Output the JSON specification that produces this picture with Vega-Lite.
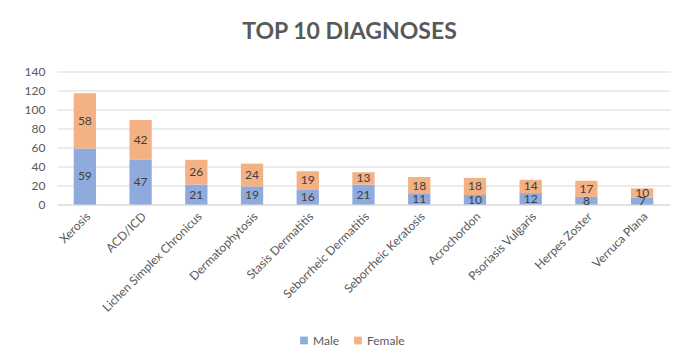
{
  "$schema": "https://vega.github.io/schema/vega-lite/v6.json",
  "autosize": {"type": "none"},
  "width": 613,
  "height": 133,
  "padding": {"left": 57, "top": 71.5, "right": 18, "bottom": 151.5},
  "background": "white",
  "title": {
    "text": "TOP 10 DIAGNOSES",
    "font": "Lato",
    "fontSize": 23,
    "fontWeight": "bold",
    "color": "#595959",
    "anchor": "middle",
    "dx": -14,
    "offset": 22
  },
  "data": {
    "values": [
      {"diagnosis": "Xerosis", "sex": "Male", "count": 59, "o": 1},
      {"diagnosis": "Xerosis", "sex": "Female", "count": 58, "o": 2},
      {"diagnosis": "ACD/ICD", "sex": "Male", "count": 47, "o": 1},
      {"diagnosis": "ACD/ICD", "sex": "Female", "count": 42, "o": 2},
      {"diagnosis": "Lichen Simplex Chronicus", "sex": "Male", "count": 21, "o": 1},
      {"diagnosis": "Lichen Simplex Chronicus", "sex": "Female", "count": 26, "o": 2},
      {"diagnosis": "Dermatophytosis", "sex": "Male", "count": 19, "o": 1},
      {"diagnosis": "Dermatophytosis", "sex": "Female", "count": 24, "o": 2},
      {"diagnosis": "Stasis Dermatitis", "sex": "Male", "count": 16, "o": 1},
      {"diagnosis": "Stasis Dermatitis", "sex": "Female", "count": 19, "o": 2},
      {"diagnosis": "Seborrheic Dermatitis", "sex": "Male", "count": 21, "o": 1},
      {"diagnosis": "Seborrheic Dermatitis", "sex": "Female", "count": 13, "o": 2},
      {"diagnosis": "Seborrheic Keratosis", "sex": "Male", "count": 11, "o": 1},
      {"diagnosis": "Seborrheic Keratosis", "sex": "Female", "count": 18, "o": 2},
      {"diagnosis": "Acrochordon", "sex": "Male", "count": 10, "o": 1},
      {"diagnosis": "Acrochordon", "sex": "Female", "count": 18, "o": 2},
      {"diagnosis": "Psoriasis Vulgaris", "sex": "Male", "count": 12, "o": 1},
      {"diagnosis": "Psoriasis Vulgaris", "sex": "Female", "count": 14, "o": 2},
      {"diagnosis": "Herpes Zoster", "sex": "Male", "count": 8, "o": 1},
      {"diagnosis": "Herpes Zoster", "sex": "Female", "count": 17, "o": 2},
      {"diagnosis": "Verruca Plana", "sex": "Male", "count": 7, "o": 1},
      {"diagnosis": "Verruca Plana", "sex": "Female", "count": 10, "o": 2}
    ]
  },
  "encoding": {
    "x": {
      "field": "diagnosis",
      "type": "nominal",
      "sort": null,
      "scale": {"paddingInner": 0.6, "paddingOuter": 0.3},
      "axis": {
        "title": null,
        "labelAngle": -45,
        "labelFont": "Lato",
        "labelFontSize": 12,
        "labelColor": "#595959",
        "labelPadding": 6,
        "ticks": false,
        "domainColor": "#d9d9d9",
        "domainWidth": 1
      }
    },
    "y": {
      "field": "count",
      "type": "quantitative",
      "stack": "zero",
      "scale": {"domain": [0, 140]},
      "axis": {
        "title": null,
        "values": [0, 20, 40, 60, 80, 100, 120, 140],
        "labelFont": "Lato",
        "labelFontSize": 12,
        "labelColor": "#595959",
        "labelPadding": 12,
        "ticks": false,
        "domain": false,
        "gridColor": "#d9d9d9",
        "gridWidth": 1
      }
    },
    "order": {"field": "o", "type": "quantitative"}
  },
  "layer": [
    {
      "mark": {"type": "bar"},
      "encoding": {
        "color": {
          "field": "sex",
          "type": "nominal",
          "scale": {"domain": ["Male", "Female"], "range": ["#8FAADC", "#F4B183"]},
          "legend": {
            "title": null,
            "orient": "none",
            "direction": "horizontal",
            "legendX": 241,
            "legendY": 263,
            "symbolType": "square",
            "symbolSize": 60,
            "labelFont": "Lato",
            "labelFontSize": 12,
            "labelColor": "#595959",
            "columnPadding": 12,
            "labelOffset": 3
          }
        }
      }
    },
    {
      "mark": {"type": "text", "font": "Lato", "fontSize": 12, "color": "#404040"},
      "encoding": {
        "y": {"field": "count", "type": "quantitative", "stack": "zero", "bandPosition": 0.5},
        "text": {"field": "count", "type": "quantitative"}
      }
    }
  ],
  "config": {
    "view": {"stroke": null}
  }
}
